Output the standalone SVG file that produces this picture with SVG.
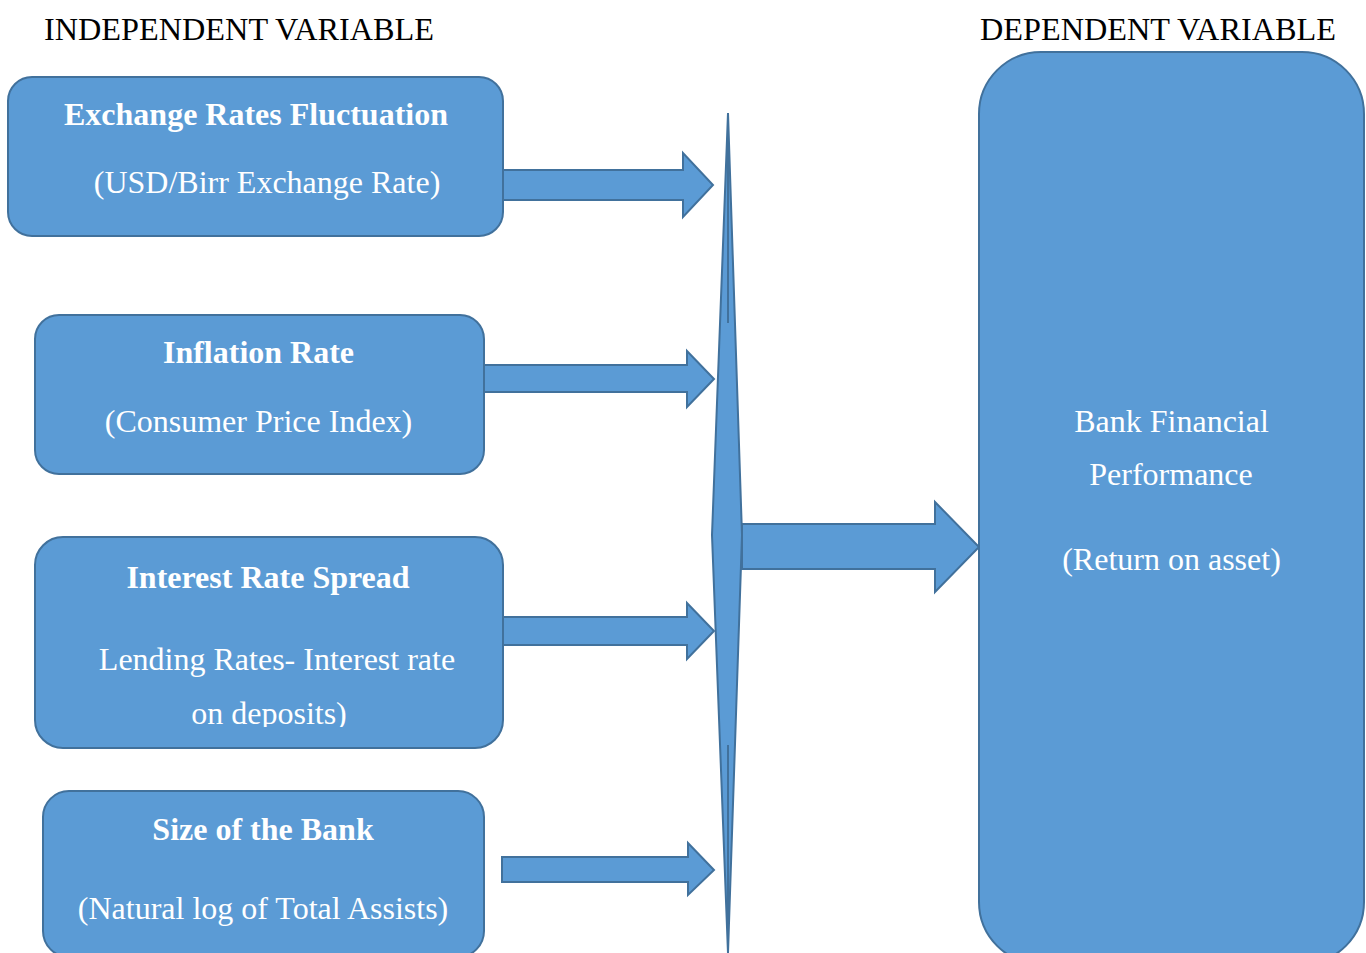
<svg xmlns="http://www.w3.org/2000/svg" width="1366" height="953" viewBox="0 0 1366 953">
<defs>
<style>
.box{fill:#5B9BD5;stroke:#41719C;stroke-width:2}
.arr{fill:#5B9BD5;stroke:#41719C;stroke-width:2;stroke-linejoin:miter}
.hd{font-family:"Liberation Serif","Times New Roman",serif;font-size:31px;fill:#000}
.t{font-family:"Liberation Serif","Times New Roman",serif;font-size:32px;fill:#fff;text-anchor:middle}
.b{font-weight:bold}
</style>
<clipPath id="c3"><rect x="35" y="537" width="468" height="190"/></clipPath>
</defs>
<rect width="1366" height="953" fill="#fff"/>
<text class="hd" x="44" y="40" textLength="390" lengthAdjust="spacingAndGlyphs">INDEPENDENT VARIABLE</text>
<text class="hd" x="980" y="40" textLength="356" lengthAdjust="spacingAndGlyphs">DEPENDENT VARIABLE</text>

<g id="connectors">
<polygon class="arr" points="503,170 683,170 683,153 713,185 683,217 683,200 503,200"/>
<polygon class="arr" points="484,365 687,365 687,351 714,379 687,407 687,392 484,392"/>
<polygon class="arr" points="503,617 687,617 687,603 714,631 687,659 687,645 503,645"/>
<polygon class="arr" points="502,857 688,857 688,843 714,870 688,895 688,882 502,882"/>
<polygon class="arr" points="728,113 742,535 728,953 712,535"/>
<line x1="728" y1="113" x2="728" y2="323" stroke="#41719C" stroke-width="2"/>
<line x1="728" y1="745" x2="728" y2="953" stroke="#41719C" stroke-width="2"/>
<polygon class="arr" points="742,524 935,524 935,502 979,547 935,592 935,569 742,569"/>
</g>

<g id="node-exchange">
<rect class="box" x="8" y="77" width="495" height="159" rx="24"/>
<text class="t b" x="256" y="125">Exchange Rates Fluctuation</text>
<text class="t" x="267" y="193">(USD/Birr Exchange Rate)</text>
</g>
<g id="node-inflation">
<rect class="box" x="35" y="315" width="449" height="159" rx="24"/>
<text class="t b" x="258.5" y="363">Inflation Rate</text>
<text class="t" x="258.5" y="432">(Consumer Price Index)</text>
</g>
<g id="node-interest">
<rect class="box" x="35" y="537" width="468" height="211" rx="28"/>
<text class="t b" x="268" y="588">Interest Rate Spread</text>
<text class="t" x="277" y="670">Lending Rates- Interest rate</text>
<text class="t" x="269" y="724" clip-path="url(#c3)">on deposits)</text>
</g>
<g id="node-size">
<rect class="box" x="43" y="791" width="441" height="166" rx="26"/>
<text class="t b" x="263" y="840">Size of the Bank</text>
<text class="t" x="263" y="919">(Natural log of Total Assists)</text>
</g>
<g id="node-performance">
<rect class="box" x="979" y="52" width="385" height="912" rx="62"/>
<text class="t" x="1171.5" y="432">Bank Financial</text>
<text class="t" x="1171" y="485">Performance</text>
<text class="t" x="1171.5" y="570">(Return on asset)</text>
</g>
</svg>
